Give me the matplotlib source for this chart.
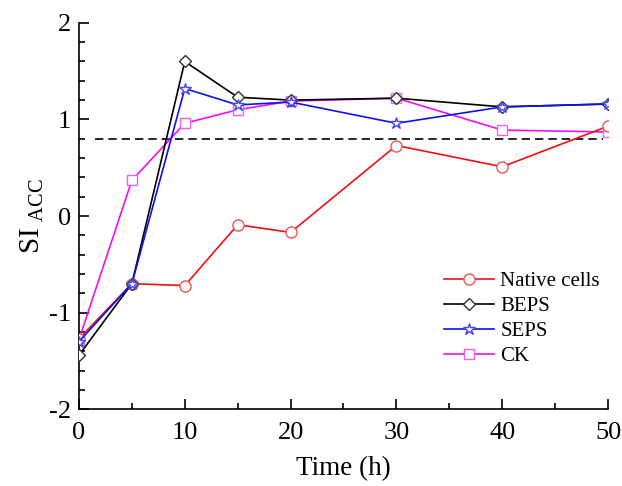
import matplotlib
matplotlib.use('Agg')
import matplotlib.pyplot as plt
from matplotlib.ticker import MultipleLocator

plt.rcParams['font.family'] = ['Liberation Serif', 'DejaVu Serif']
plt.rcParams['mathtext.fontset'] = 'custom'
plt.rcParams['mathtext.rm'] = 'Liberation Serif'
plt.rcParams['axes.unicode_minus'] = False

time_h = [0, 5, 10, 15, 20, 30, 40, 50]
native = [-1.27, -0.70, -0.72, -0.09, -0.17, 0.73, 0.51, 0.93]
beps = [-1.44, -0.70, 1.60, 1.23, 1.20, 1.22, 1.13, 1.16]
seps = [-1.30, -0.70, 1.32, 1.15, 1.18, 0.96, 1.13, 1.16]
ck = [-1.28, 0.37, 0.96, 1.10, 1.19, 1.22, 0.89, 0.87]
threshold = 0.8
threshold_x = [1.5, 49.5]

fig = plt.figure(figsize=(6.22, 4.86), dpi=100)
ax = fig.add_axes([0.127, 0.158, 0.8505, 0.795])

ax.plot(time_h, ck, '-s', color='#f010f0', mec='#f060f0', mfc='white', ms=7, lw=1.2, label='CK', zorder=2)
ax.plot(time_h, native, '-o', color='#ee1111', mec='#ee5555', mfc='white', ms=8, lw=1.2, label='Native cells', zorder=3)
ax.plot(time_h, beps, '-D', color='black', mec='#333333', mfc='white', ms=6.5, lw=1.2, label='BEPS', zorder=4)
ax.plot(time_h, seps, '-*', color='#1010ee', mec='#4444ff', mfc='white', ms=9, lw=1.2, label='SEPS', zorder=5)
ax.plot(threshold_x, [threshold, threshold], '--', color='black', lw=1.2, dashes=(5, 3), zorder=1)

ax.set_xlim(0, 50)
ax.set_ylim(-2, 2)
ax.xaxis.set_major_locator(MultipleLocator(10))
ax.xaxis.set_minor_locator(MultipleLocator(5))
ax.yaxis.set_major_locator(MultipleLocator(1))
ax.yaxis.set_minor_locator(MultipleLocator(0.2))
ax.tick_params(which='both', direction='in', labelsize=19, width=1.2)
ax.tick_params(which='major', length=7)
ax.tick_params(which='minor', length=4)
ax.tick_params(axis='x', pad=9)
ax.tick_params(axis='y', pad=6)
ax.spines['top'].set_visible(False)
ax.spines['right'].set_visible(False)
ax.spines['left'].set_linewidth(1.2)
ax.spines['bottom'].set_linewidth(1.2)

ax.set_xlabel('Time (h)', fontsize=19.5, labelpad=9)
ax.set_ylabel(r'SI$_{\ \mathrm{ACC}}$', fontsize=21, labelpad=2)

h, l = ax.get_legend_handles_labels()
order = [1, 2, 3, 0]
ax.legend([h[i] for i in order], [l[i] for i in order], loc='upper left',
          bbox_to_anchor=(0.655, 0.404), frameon=False, fontsize=15,
          handlelength=2.4, handletextpad=0.3, labelspacing=0.25)

fig.savefig('out.png', dpi=100)
